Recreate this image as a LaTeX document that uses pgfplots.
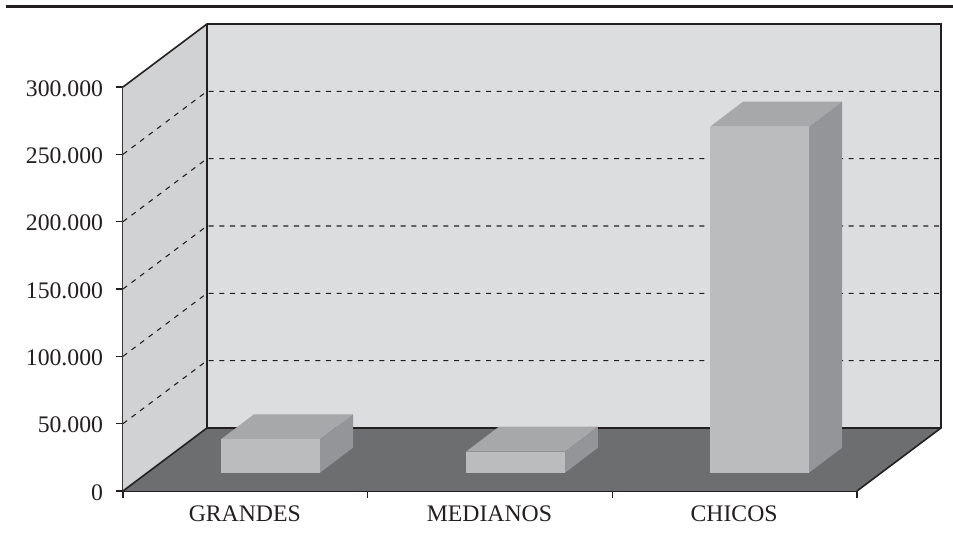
\documentclass[border=0pt]{standalone}
\usepackage{pgfplots}
\pgfplotsset{compat=1.18}
\usepackage{fontspec}
\setmainfont{Liberation Serif}
\definecolor{ink}{HTML}{231F20}
\definecolor{wallB}{HTML}{DCDDDF}
\definecolor{wallS}{HTML}{D1D2D4}
\definecolor{floorC}{HTML}{6D6E70}
\definecolor{barF}{HTML}{BBBCBE}
\definecolor{barT}{HTML}{A7A8AA}
\definecolor{barS}{HTML}{939598}
\begin{document}
\begin{tikzpicture}[x=0.75pt,y=0.75pt]
\useasboundingbox (-123,-54) rectangle (830,491);
\draw[ink,line width=2.2pt] (-117,484.8) -- (830,484.8);
\begin{axis}[
  at={(0,0)},anchor=south west,
  scale only axis,width=550.5pt,height=303pt,
  xmin=-0.5,xmax=2.5,ymin=0,ymax=300000,
  clip=false,
  axis x line=bottom,axis y line=left,
  axis line style={-,ink,line width=1.2pt},
  tick align=outside,
  tick style={ink,line width=0.9pt},
  major tick length=5.25pt,minor tick length=5.25pt,
  xtick={0,1,2},xticklabels={GRANDES,MEDIANOS,CHICOS},
  minor xtick={-0.5,0.5,1.5,2.5},
  major x tick style={draw=none},
  ytick={0,50000,100000,150000,200000,250000,300000},
  yticklabels={0,50.000,100.000,150.000,200.000,250.000,300.000},
  scaled y ticks=false,
  tick label style={font=\fontsize{17.8}{20}\selectfont,text=ink},
  xticklabel style={yshift=-2pt,xshift=-0.4pt},
  yticklabel style={xshift=-6.2pt,yshift=-1pt},
]
% walls
\addplot[fill=wallB,draw=none,forget plot] coordinates {(-0.1567,46782) (2.8433,46782) (2.8433,346782) (-0.1567,346782)} -- cycle;
\addplot[fill=wallS,draw=none,forget plot] coordinates {(-0.5,0) (-0.1567,46782) (-0.1567,346782) (-0.5,300000)} -- cycle;
% grid
\addplot[ink,line width=0.8pt,dash pattern=on 3.8pt off 4.2pt,forget plot] coordinates {(-0.5,50000) (-0.1567,96782) (2.8433,96782)};
\addplot[ink,line width=0.8pt,dash pattern=on 3.8pt off 4.2pt,forget plot] coordinates {(-0.5,100000) (-0.1567,146782) (2.8433,146782)};
\addplot[ink,line width=0.8pt,dash pattern=on 3.8pt off 4.2pt,forget plot] coordinates {(-0.5,150000) (-0.1567,196782) (2.8433,196782)};
\addplot[ink,line width=0.8pt,dash pattern=on 3.8pt off 4.2pt,forget plot] coordinates {(-0.5,200000) (-0.1567,246782) (2.8433,246782)};
\addplot[ink,line width=0.8pt,dash pattern=on 3.8pt off 4.2pt,forget plot] coordinates {(-0.5,250000) (-0.1567,296782) (2.8433,296782)};
% floor
\addplot[fill=floorC,draw=none,forget plot] coordinates {(-0.5,0) (2.5,0) (2.8433,46782) (-0.1567,46782)} -- cycle;
% outlines
\addplot[ink,line width=1.2pt,forget plot] coordinates {(-0.5,300000) (-0.1567,346782) (2.8433,346782) (2.8433,46782) (2.5,0)};
\addplot[ink,line width=1.2pt,forget plot] coordinates {(-0.5,0) (-0.1567,46782) (2.8433,46782)};
\addplot[ink,line width=1.2pt,forget plot] coordinates {(-0.1567,346782) (-0.1567,46782)};
% GRANDES
\addplot[fill=barT,draw=none,forget plot] coordinates {(-0.0995,38390) (0.3052,38390) (0.4401,56954) (0.0354,56954)} -- cycle;
\addplot[fill=barS,draw=none,forget plot] coordinates {(0.3052,13589) (0.4401,32153) (0.4401,56954) (0.3052,38390)} -- cycle;
\addplot[fill=barF,draw=none,forget plot] coordinates {(-0.0995,13589) (0.3052,13589) (0.3052,38390) (-0.0995,38390)} -- cycle;
% MEDIANOS
\addplot[fill=barT,draw=none,forget plot] coordinates {(0.9019,29183) (1.3065,29183) (1.4414,47747) (1.0368,47747)} -- cycle;
\addplot[fill=barS,draw=none,forget plot] coordinates {(1.3065,13589) (1.4414,32153) (1.4414,47747) (1.3065,29183)} -- cycle;
\addplot[fill=barF,draw=none,forget plot] coordinates {(0.9019,13589) (1.3065,13589) (1.3065,29183) (0.9019,29183)} -- cycle;
% CHICOS
\addplot[fill=barT,draw=none,forget plot] coordinates {(1.8992,270513) (2.3038,270513) (2.4387,289077) (2.0341,289077)} -- cycle;
\addplot[fill=barS,draw=none,forget plot] coordinates {(2.3038,13589) (2.4387,32153) (2.4387,289077) (2.3038,270513)} -- cycle;
\addplot[fill=barF,draw=none,forget plot] coordinates {(1.8992,13589) (2.3038,13589) (2.3038,270513) (1.8992,270513)} -- cycle;
\end{axis}
\end{tikzpicture}
\end{document}
